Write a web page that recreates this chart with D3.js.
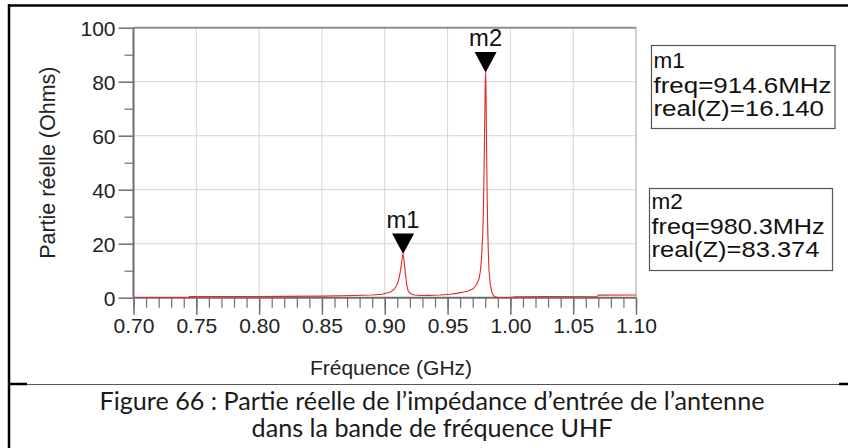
<!DOCTYPE html>
<html>
<head>
<meta charset="utf-8">
<script src="https://cdn.jsdelivr.net/npm/d3@7"></script>
<style>
  html, body { margin: 0; padding: 0; background: #fff; }
  svg { display: block; }
</style>
</head>
<body>
<div id="chart"></div>
<script>
// ---- data ----
const freqGHz = [0.700, 0.744, 0.7445, 0.780, 0.820, 0.850, 0.875, 0.890, 0.898, 0.9046, 0.9076, 0.9096,
  0.9106, 0.9116, 0.9126, 0.9136, 0.9141, 0.9146, 0.9151, 0.9156, 0.9166, 0.9176, 0.9186, 0.9206, 0.9236,
  0.928, 0.935, 0.944, 0.952, 0.957, 0.962, 0.966, 0.969, 0.971, 0.973, 0.975, 0.976, 0.977, 0.978,
  0.9785, 0.979, 0.9795, 0.980, 0.9803, 0.9806, 0.981, 0.9815, 0.982, 0.9825, 0.983, 0.984, 0.985,
  0.986, 0.987, 0.988, 0.990, 0.995, 1.000, 1.004, 1.030, 1.0695, 1.070, 1.100];
const realZ = [0.05, 0.05, 0.4, 0.45, 0.5, 0.6, 0.8, 1.0, 1.3, 2.1, 3.2, 4.6,
  5.8, 7.6, 10.2, 13.6, 15.3, 16.14, 15.0, 12.8, 8.2, 4.6, 2.6, 1.5, 1.0,
  0.8, 0.85, 1.0, 1.3, 1.6, 2.0, 2.4, 3.0, 3.6, 4.8, 6.9, 9.5, 14.0, 23.5,
  32.0, 45.0, 63.0, 80.0, 83.374, 77.0, 58.0, 38.0, 25.0, 16.0, 10.0, 5.0, 2.5,
  1.2, 0.6, 0.3, 0.1, 0.05, 0.1, 0.35, 0.45, 0.55, 0.95, 1.0];

const xTickLabels = ["0.70", "0.75", "0.80", "0.85", "0.90", "0.95", "1.00", "1.05", "1.10"];
const xMinorTicks = d3.range(70, 111).map(v => v / 100);
const yTickLabels = ["0", "20", "40", "60", "80", "100"];
const yMinorTicks = [10, 30, 50, 70, 90];

const markerNames = ["m1", "m2"];
const markerFreqGHz = [0.9146, 0.9803];
const markerFreqText = ["914.6MHz", "980.3MHz"];
const markerValues = [16.140, 83.374];
const markerValueText = ["16.140", "83.374"];

const xTitle = "Fréquence (GHz)";
const yTitle = "Partie réelle (Ohms)";
const captionLines = ["Figure 66 : Partie réelle de l’impédance d’entrée de l’antenne",
                      "dans la bande de fréquence UHF"];

// ---- layout ----
const W = 848, H = 448;
const plot = { left: 133.5, right: 636, top: 27.7, bottom: 297.7 };
const FONT = "'Liberation Sans', Arial, Helvetica, sans-serif";

const svg = d3.select("#chart").append("svg")
  .attr("width", W).attr("height", H)
  .attr("viewBox", `0 0 ${W} ${H}`);
svg.append("rect").attr("width", W).attr("height", H).attr("fill", "#fff");

const x = d3.scaleLinear().domain([0.7, 1.1]).range([plot.left, plot.right]);
const y = d3.scaleLinear().domain([0, 100]).range([plot.bottom, plot.top]);

// ---- outer frame ----
svg.append("line").attr("x1", 8).attr("x2", W).attr("y1", 5.5).attr("y2", 5.5)
  .attr("stroke", "#000").attr("stroke-width", 2.5);
svg.append("line").attr("x1", 9).attr("x2", 9).attr("y1", 4.3).attr("y2", H)
  .attr("stroke", "#000").attr("stroke-width", 2.5);
// separator between chart and caption
svg.append("line").attr("x1", 27).attr("x2", 839).attr("y1", 384.5).attr("y2", 384.5)
  .attr("stroke", "#555").attr("stroke-width", 1);
svg.append("line").attr("x1", 8).attr("x2", 27).attr("y1", 384).attr("y2", 384)
  .attr("stroke", "#000").attr("stroke-width", 2.5);
svg.append("line").attr("x1", 839).attr("x2", W).attr("y1", 384).attr("y2", 384)
  .attr("stroke", "#000").attr("stroke-width", 2.5);

// ---- grid ----
const grid = svg.append("g");
grid.selectAll("line.gx").data(xTickLabels.map(Number).slice(1, -1)).join("line")
  .attr("x1", d => x(d)).attr("x2", d => x(d))
  .attr("y1", plot.top).attr("y2", plot.bottom)
  .attr("stroke", "#d6d6d6").attr("stroke-width", 1);
grid.selectAll("line.gy").data(yTickLabels.map(Number).slice(1, -1)).join("line")
  .attr("x1", plot.left).attr("x2", plot.right)
  .attr("y1", d => y(d)).attr("y2", d => y(d))
  .attr("stroke", "#d6d6d6").attr("stroke-width", 1);

// frame (top, right)
svg.append("line").attr("x1", plot.left).attr("x2", plot.right)
  .attr("y1", plot.top).attr("y2", plot.top).attr("stroke", "#8c8c8c").attr("stroke-width", 2);
svg.append("line").attr("x1", plot.right).attr("x2", plot.right)
  .attr("y1", plot.top).attr("y2", plot.bottom).attr("stroke", "#b0b0b0").attr("stroke-width", 1.2);

// ---- axes ----
const axisColor = "#6e6e6e";
const gx = svg.append("g").attr("transform", `translate(0,${plot.bottom})`)
  .call(d3.axisBottom(x).tickValues(xMinorTicks).tickSize(10).tickFormat(""));
gx.select(".domain").remove();
gx.selectAll(".tick line").attr("stroke", axisColor).attr("stroke-width", 1.2);
const gxMaj = svg.append("g").attr("transform", `translate(0,${plot.bottom})`)
  .call(d3.axisBottom(x).tickValues(xTickLabels.map(Number)).tickSize(17).tickPadding(3)
    .tickFormat((d, i) => xTickLabels[i]));
gxMaj.select(".domain").attr("stroke", axisColor).attr("stroke-width", 2).attr("d", `M${plot.left},0H${plot.right}`);
gxMaj.selectAll(".tick line").attr("stroke", axisColor).attr("stroke-width", 1.5);
gxMaj.selectAll(".tick text").attr("font-family", FONT).attr("font-size", 21)
  .attr("fill", "#222").attr("dy", null).attr("y", 35.5);

const gyMin = svg.append("g").attr("transform", `translate(${plot.left},0)`)
  .call(d3.axisLeft(y).tickValues(yMinorTicks).tickSize(9).tickFormat(""));
gyMin.select(".domain").remove();
gyMin.selectAll(".tick line").attr("stroke", axisColor).attr("stroke-width", 1.2);
const gy = svg.append("g").attr("transform", `translate(${plot.left},0)`)
  .call(d3.axisLeft(y).tickValues(yTickLabels.map(Number)).tickSize(15).tickPadding(3)
    .tickFormat((d, i) => yTickLabels[i]));
gy.select(".domain").attr("stroke", axisColor).attr("stroke-width", 2).attr("d", `M0,${plot.top}V${plot.bottom}`);
gy.selectAll(".tick line").attr("stroke", axisColor).attr("stroke-width", 1.5);
gy.selectAll(".tick text").attr("font-family", FONT).attr("font-size", 21)
  .attr("fill", "#222").attr("dy", "0.35em");

// ---- axis titles ----
svg.append("text").attr("x", 391).attr("y", 375)
  .attr("text-anchor", "middle").attr("font-family", FONT).attr("font-size", 21).attr("fill", "#222")
  .text(xTitle);
svg.append("text")
  .attr("transform", `translate(55,${(plot.top + plot.bottom) / 2}) rotate(-90)`)
  .attr("text-anchor", "middle").attr("font-family", FONT).attr("font-size", 21.5).attr("fill", "#222")
  .text(yTitle);

// ---- data line ----
const data = freqGHz.map((f, i) => ({ f, v: realZ[i] }));
svg.append("path").datum(data)
  .attr("fill", "none").attr("stroke", "#e8262b").attr("stroke-width", 1.1)
  .attr("stroke-linejoin", "round")
  .attr("d", d3.line().x(d => x(d.f)).y(d => y(d.v)));

// ---- markers ----
const mk = svg.append("g");
markerNames.forEach((name, i) => {
  const px = x(markerFreqGHz[i]), py = y(markerValues[i]);
  mk.append("path")
    .attr("d", `M${px},${py}L${px - 11},${py - 20.5}L${px + 11},${py - 20.5}Z`)
    .attr("fill", "#000");
  mk.append("text").attr("x", px).attr("y", py - 26.5)
    .attr("text-anchor", "middle").attr("font-family", FONT).attr("font-size", 23).attr("fill", "#111")
    .attr("textLength", 33).attr("lengthAdjust", "spacingAndGlyphs")
    .text(name);
});

// ---- marker readout boxes ----
const boxes = [
  { x: 651.5, y: 45.5, w: 183.5, h: 83, tx: 653.5, base: 67.5, wFreq: 178, wReal: 170.5 },
  { x: 649.5, y: 188.5, w: 183, h: 82, tx: 651.5, base: 208.5, wFreq: 173, wReal: 168 }
];
boxes.forEach((b, i) => {
  const g = svg.append("g");
  g.append("rect").attr("x", b.x).attr("y", b.y).attr("width", b.w).attr("height", b.h)
    .attr("fill", "#fff").attr("stroke", "#555").attr("stroke-width", 1.2);
  const lines = [markerNames[i], `freq=${markerFreqText[i]}`, `real(Z)=${markerValueText[i]}`];
  const offs = [0, 25.5, 48.5];
  const widths = [null, b.wFreq, b.wReal];
  lines.forEach((t, j) => {
    const tt = g.append("text").attr("x", b.tx).attr("y", b.base + offs[j])
      .attr("font-family", FONT).attr("font-size", 22.5).attr("fill", "#111").text(t);
    if (widths[j]) tt.attr("textLength", widths[j]).attr("lengthAdjust", "spacingAndGlyphs");
  });
});

// ---- caption ----
const CAP_FONT = "Lato, Carlito, Calibri, 'Open Sans', sans-serif";
const capSize = 25, capWidth1 = 665, capCx = 432;
const c1 = svg.append("text").attr("x", capCx).attr("y", 410)
  .attr("text-anchor", "middle").attr("font-family", CAP_FONT).attr("font-size", capSize).attr("fill", "#1a1a1a")
  .text(captionLines[0]);
const c2 = svg.append("text").attr("x", capCx).attr("y", 437)
  .attr("text-anchor", "middle").attr("font-family", CAP_FONT).attr("font-size", capSize).attr("fill", "#1a1a1a")
  .text(captionLines[1]);
const w1 = c1.node().getComputedTextLength();
const w2 = c2.node().getComputedTextLength();
const k = capWidth1 / w1;
c1.attr("textLength", capWidth1).attr("lengthAdjust", "spacingAndGlyphs");
c2.attr("textLength", w2 * k).attr("lengthAdjust", "spacingAndGlyphs");
</script>
</body>
</html>
